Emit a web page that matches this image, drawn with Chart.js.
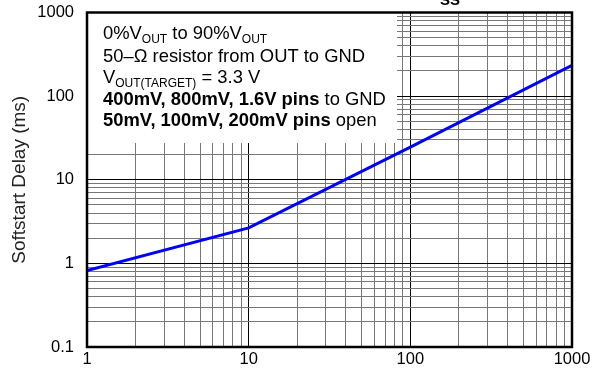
<!DOCTYPE html>
<html><head><meta charset="utf-8">
<script src="https://cdn.jsdelivr.net/npm/chart.js@4/dist/chart.umd.min.js"></script>
<style>html,body{margin:0;padding:0;background:#fff}#wrap{width:592px;height:369px;position:relative}</style>
</head><body><div id="wrap"><canvas id="c" width="592" height="369"></canvas></div>
<script>
// ---- data ----
const capacitance = [1, 10, 100, 1000];
const softstartDelay = [0.82, 2.66, 24.5, 233];
const xTickLabels = [1, 10, 100, 1000];
const yTickLabels = [0.1, 1, 10, 100, 1000];
const yAxisTitle = 'Softstart Delay (ms)';
const chartTitleMain = 'SOFTSTART DELAY vs C';
const chartTitleSub = 'SS';
// note lines: segments [text, style] where style: n=normal, b=bold, s=subscript
const noteLines = [
  [['0%V','n'],['OUT','s'],[' to 90%V','n'],['OUT','s']],
  [['50\u2013\u03A9 resistor from OUT to GND','n']],
  [['V','n'],['OUT(TARGET)','s'],[' = 3.3 V','n']],
  [['400mV, 800mV, 1.6V pins','b'],[' to GND','n']],
  [['50mV, 100mV, 200mV pins','b'],[' open','n']]
];

const FONT = "'Liberation Sans', Arial, sans-serif";
function isPow10(v){ const l = Math.log10(v); return Math.abs(l - Math.round(l)) < 1e-6; }
function labelFor(v, list){
  for (const t of list){ if (Math.abs(Math.log10(v) - Math.log10(t)) < 1e-6) return String(t); }
  return '';
}
// 1..9 x 10^k grid ticks between min and max
function logTicks(scale){
  const lo = Math.round(Math.log10(scale.min)), hi = Math.round(Math.log10(scale.max));
  const ticks = [];
  for (let e = lo; e < hi; e++){
    for (let m = 1; m <= 9; m++) ticks.push({ value: Number((m * Math.pow(10, e)).toPrecision(6)) });
  }
  ticks.push({ value: scale.max });
  scale.ticks = ticks;
}

const notePlugin = {
  id: 'note',
  beforeDatasetsDraw(chart){
    const {ctx, chartArea: a} = chart;
    ctx.save();
    ctx.fillStyle = '#fff';
    ctx.fillRect(a.left, a.top, 397 - a.left, 143 - a.top);
    const baselines = [39, 61.5, 83, 104.5, 125.5];
    ctx.fillStyle = '#000';
    ctx.textBaseline = 'alphabetic';
    ctx.textAlign = 'left';
    noteLines.forEach((segs, i) => {
      let x = 103;
      segs.forEach(([t, st]) => {
        let y = baselines[i];
        if (st === 'b') ctx.font = 'bold 18.4px ' + FONT;
        else if (st === 's') { ctx.font = '12px ' + FONT; y += 3.5; }
        else ctx.font = '18.4px ' + FONT;
        ctx.fillText(t, x, y);
        x += ctx.measureText(t).width;
      });
    });
    ctx.restore();
  },
  afterDraw(chart){
    const {ctx, chartArea: a} = chart;
    ctx.save();
    ctx.strokeStyle = '#000';
    ctx.lineWidth = 2.5;
    ctx.strokeRect(a.left, a.top, a.right - a.left, a.bottom - a.top);
    ctx.fillStyle = '#000';
    ctx.textAlign = 'right';
    ctx.textBaseline = 'alphabetic';
    ctx.font = '18px ' + FONT;
    ctx.fillText(chartTitleMain, 440, 0);
    ctx.textAlign = 'left';
    ctx.font = 'bold 15px ' + FONT;
    ctx.fillText(chartTitleSub, 440, 5);
    ctx.restore();
  }
};

new Chart(document.getElementById('c'), {
  type: 'line',
  data: {
    datasets: [{
      data: capacitance.map((x, i) => ({x, y: softstartDelay[i]})),
      borderColor: '#0000ff',
      borderWidth: 3,
      pointRadius: 0,
      tension: 0,
      fill: false
    }]
  },
  options: {
    responsive: false,
    animation: false,
    devicePixelRatio: 1,
    layout: { padding: { left: 0, top: 12.5, right: 20, bottom: 0 } },
    plugins: { legend: { display: false }, tooltip: { enabled: false }, title: { display: false } },
    scales: {
      x: {
        type: 'logarithmic', min: 1, max: 1000,
        border: { display: false },
        grid: { drawTicks: false, lineWidth: 1,
          color: c => (c.tick && isPow10(c.tick.value)) ? '#000' : '#777' },
        ticks: { autoSkip: false, maxRotation: 0, padding: 3, color: '#000',
          font: { family: FONT, size: 16.5 },
          callback: v => labelFor(v, xTickLabels) },
        afterBuildTicks: logTicks,
        afterFit: s => { s.height = 22; s.paddingLeft = 0; s.paddingRight = 0; }
      },
      y: {
        type: 'logarithmic', min: 0.1, max: 1000,
        border: { display: false },
        grid: { drawTicks: false, lineWidth: 1,
          color: c => (c.tick && isPow10(c.tick.value)) ? '#000' : '#777' },
        ticks: { autoSkip: false, padding: 13, color: '#000',
          font: { family: FONT, size: 16.5 },
          callback: v => labelFor(v, yTickLabels) },
        afterBuildTicks: logTicks,
        title: { display: true, text: yAxisTitle, color: '#222', padding: {top: 8, bottom: 0},
          font: { family: FONT, size: 19 } },
        afterFit: s => { s.width = 87; s.paddingTop = 0; s.paddingBottom = 0; }
      }
    }
  },
  plugins: [notePlugin]
});
</script>
</body></html>
